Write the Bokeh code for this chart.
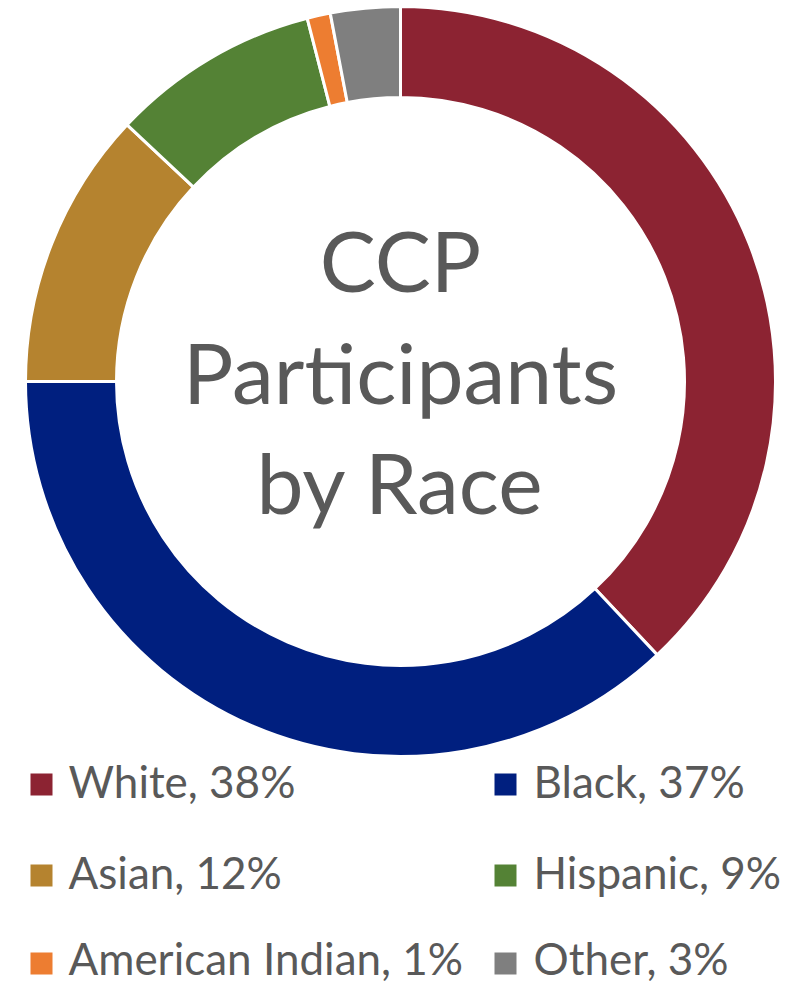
import numpy as np
from bokeh.plotting import figure
from bokeh.models import ColumnDataSource, Range1d
from bokeh.core.properties import value
from bokeh.embed import file_html
from bokeh.resources import INLINE

# ---- data ----
categories = ["White", "Black", "Asian", "Hispanic", "American Indian", "Other"]
percents = [38, 37, 12, 9, 1, 3]
colors = ["#8C2332", "#001F7F", "#B5832F", "#548235", "#ED7D31", "#7F7F7F"]
title_lines = ["CCP", "Participants", "by Race"]

# ---- geometry (1 data unit = 1 pixel) ----
W, H = 794, 986
p = figure(width=W, height=H, output_backend="svg", toolbar_location=None,
           x_range=Range1d(0, W), y_range=Range1d(0, H),
           min_border=0, outline_line_color=None)
p.axis.visible = False
p.grid.visible = False
p.background_fill_color = "white"

def Y(py):
    return H - py

cx, cy = 400, Y(381)
r_out, r_in = 375, 284

vals = np.array(percents, dtype=float)
frac = vals / vals.sum()
cum_end = np.cumsum(frac)
cum_start = cum_end - frac
start = np.pi / 2 - cum_start * 2 * np.pi
end = np.pi / 2 - cum_end * 2 * np.pi

src = ColumnDataSource(dict(start=start, end=end, color=colors))
p.annular_wedge(x=cx, y=cy, inner_radius=r_in, outer_radius=r_out,
                start_angle="start", end_angle="end", direction="clock",
                fill_color="color", line_color="white", line_width=3, source=src)

FONT = "Lato"
# center title (baseline correction for svg alphabetic offset)
tsize = 84
for line, py in zip(title_lines, [290, 402, 512]):
    p.text(x=[cx], y=[Y(py - 0.37 * tsize)], text=[line], text_align="center",
           text_baseline="alphabetic", text_font=value(FONT),
           text_font_size=f"{tsize}px", text_color="#595959")

# legend
lsize = 44
labels = [f"{c}, {v}%" for c, v in zip(categories, percents)]
sq_x = [30, 494]
tx_x = [68, 533]
sq_y = [784, 875, 963]
base_y = [797, 888, 974]
sx, sy, tx, ty = [], [], [], []
for i in range(len(categories)):
    sx.append(sq_x[i % 2] + 11)
    sy.append(Y(sq_y[i // 2]))
    tx.append(tx_x[i % 2])
    ty.append(Y(base_y[i // 2] - 0.37 * lsize))
leg = ColumnDataSource(dict(x=sx, y=sy, tx=tx, ty=ty, color=colors, label=labels))
p.rect(x="x", y="y", width=22, height=22, fill_color="color", line_color=None, source=leg)
p.text(x="tx", y="ty", text="label", text_align="left", text_baseline="alphabetic",
       text_font=value(FONT), text_font_size=f"{lsize}px", text_color="#595959", source=leg)

open("out.html", "w").write(file_html(p, INLINE))
